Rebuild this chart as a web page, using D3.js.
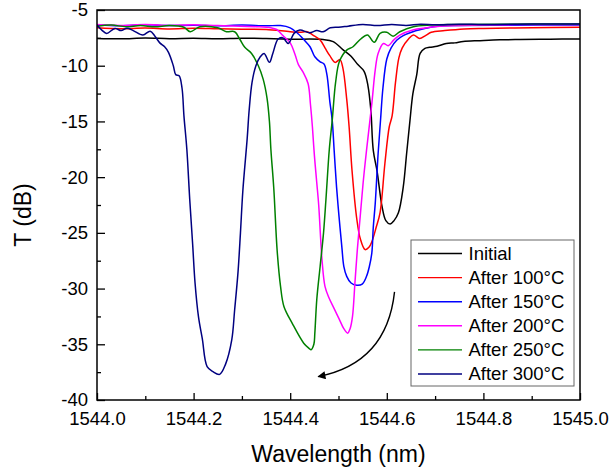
<!DOCTYPE html>
<html><head><meta charset="utf-8">
<script src="https://cdn.jsdelivr.net/npm/d3@7"></script>
<style>
html,body{margin:0;padding:0;background:#fff;}
svg{display:block;font-family:Arial,"Liberation Sans",sans-serif;}
</style></head>
<body><svg id="chart" width="609" height="471"></svg>
<script>
// ---- data (wavelength nm, transmission dB) ----
const seriesNames = ["Initial","After 100°C","After 150°C","After 200°C","After 250°C","After 300°C"];
const seriesColors = ["#000000","#ff0000","#0000ff","#ff00ff","#008000","#000080"];

const initial = [
[1544.00,-7.55],[1544.05,-7.58],[1544.10,-7.52],[1544.15,-7.57],[1544.20,-7.54],[1544.25,-7.58],
[1544.30,-7.53],[1544.35,-7.56],[1544.40,-7.62],[1544.468,-7.65],[1544.489,-7.84],[1544.509,-8.55],
[1544.526,-9.15],[1544.540,-9.9],[1544.553,-10.5],[1544.561,-11.8],[1544.567,-14.0],[1544.572,-17.6],
[1544.580,-19.5],[1544.590,-22.6],[1544.598,-23.9],[1544.607,-24.2],[1544.615,-23.9],[1544.624,-23.2],
[1544.634,-20.9],[1544.641,-17.9],[1544.648,-14.9],[1544.654,-12.5],[1544.662,-10.8],[1544.669,-8.9],
[1544.679,-8.45],[1544.689,-8.35],[1544.704,-8.25],[1544.723,-8.0],[1544.741,-7.95],[1544.758,-7.82],
[1544.793,-7.75],[1544.834,-7.68],[1544.876,-7.65],[1544.938,-7.62],[1545.00,-7.6]];

const after100 = [
[1544.00,-6.6],[1544.05,-6.68],[1544.10,-6.62],[1544.15,-6.7],[1544.20,-6.63],[1544.25,-6.68],
[1544.30,-6.72],[1544.35,-6.75],[1544.40,-6.95],[1544.420,-7.0],[1544.435,-6.95],[1544.447,-7.25],
[1544.462,-7.7],[1544.472,-8.4],[1544.482,-9.1],[1544.493,-9.7],[1544.503,-9.45],[1544.509,-10.2],
[1544.517,-13.0],[1544.522,-15.5],[1544.528,-19.4],[1544.538,-23.8],[1544.545,-25.5],[1544.555,-26.5],
[1544.563,-26.3],[1544.569,-25.8],[1544.578,-24.5],[1544.586,-23.2],[1544.596,-18.8],[1544.605,-15.5],
[1544.611,-14.5],[1544.618,-11.5],[1544.625,-9.3],[1544.632,-8.4],[1544.645,-7.6],[1544.655,-7.25],
[1544.668,-7.55],[1544.680,-7.3],[1544.692,-7.0],[1544.72,-6.85],[1544.76,-6.7],[1544.80,-6.65],
[1544.90,-6.6],[1545.00,-6.55]];

const after150 = [
[1544.00,-6.35],[1544.05,-6.42],[1544.10,-6.33],[1544.15,-6.4],[1544.20,-6.36],[1544.25,-6.42],
[1544.30,-6.35],[1544.35,-6.42],[1544.38,-6.4],[1544.40,-6.6],[1544.413,-7.0],[1544.427,-7.6],
[1544.441,-8.3],[1544.451,-9.2],[1544.462,-9.65],[1544.470,-9.85],[1544.476,-10.8],[1544.482,-13.2],
[1544.487,-14.9],[1544.491,-17.6],[1544.496,-20.9],[1544.501,-23.5],[1544.507,-26.3],[1544.511,-28.0],
[1544.517,-28.9],[1544.526,-29.5],[1544.538,-29.7],[1544.549,-29.6],[1544.558,-28.9],[1544.564,-28.0],
[1544.569,-26.8],[1544.572,-24.5],[1544.576,-22.4],[1544.582,-17.9],[1544.587,-14.9],[1544.592,-12.0],
[1544.600,-9.4],[1544.609,-8.4],[1544.621,-7.7],[1544.634,-7.3],[1544.654,-6.95],[1544.683,-6.62],
[1544.704,-6.45],[1544.75,-6.38],[1544.85,-6.36],[1545.00,-6.35]];

const after200 = [
[1544.00,-6.3],[1544.05,-6.38],[1544.10,-6.3],[1544.15,-6.38],[1544.20,-6.32],[1544.25,-6.4],
[1544.33,-6.5],[1544.36,-6.6],[1544.372,-6.75],[1544.385,-7.3],[1544.400,-7.95],[1544.410,-9.0],
[1544.417,-9.9],[1544.427,-10.6],[1544.437,-11.6],[1544.442,-13.5],[1544.446,-15.5],[1544.450,-18.0],
[1544.455,-20.5],[1544.459,-22.5],[1544.463,-25.5],[1544.466,-27.5],[1544.472,-29.8],[1544.480,-30.8],
[1544.491,-31.8],[1544.501,-32.7],[1544.511,-33.6],[1544.519,-34.0],[1544.524,-33.6],[1544.529,-32.5],
[1544.534,-29.5],[1544.539,-26.5],[1544.545,-23.5],[1544.551,-20.5],[1544.558,-17.6],[1544.569,-13.4],
[1544.576,-10.4],[1544.582,-8.9],[1544.593,-8.0],[1544.603,-8.2],[1544.614,-7.7],[1544.627,-7.25],
[1544.654,-6.8],[1544.683,-6.6],[1544.710,-6.45],[1544.80,-6.35],[1544.90,-6.3],[1545.00,-6.3]];

const after250 = [
[1544.00,-6.45],[1544.03,-6.35],[1544.06,-6.5],[1544.09,-6.4],[1544.12,-6.5],[1544.15,-6.4],
[1544.18,-6.55],[1544.193,-6.95],[1544.213,-6.5],[1544.25,-6.6],[1544.268,-6.95],[1544.285,-6.95],
[1544.296,-7.65],[1544.306,-8.35],[1544.320,-8.9],[1544.334,-10.0],[1544.344,-11.2],[1544.352,-12.9],
[1544.357,-15.0],[1544.360,-17.5],[1544.366,-21.0],[1544.373,-26.6],[1544.380,-29.8],[1544.387,-31.6],
[1544.404,-33.1],[1544.428,-34.9],[1544.440,-35.4],[1544.443,-35.5],[1544.449,-35.0],[1544.451,-34.0],
[1544.455,-31.0],[1544.462,-28.0],[1544.469,-25.0],[1544.474,-22.0],[1544.481,-17.5],[1544.487,-14.9],
[1544.494,-11.5],[1544.502,-9.6],[1544.517,-8.6],[1544.530,-8.3],[1544.546,-7.6],[1544.560,-7.25],
[1544.574,-7.9],[1544.586,-7.1],[1544.600,-7.0],[1544.613,-7.35],[1544.627,-6.95],[1544.655,-6.5],
[1544.690,-6.35],[1544.75,-6.3],[1544.85,-6.28],[1545.00,-6.25]];

const after300 = [
[1544.00,-6.35],[1544.01,-6.8],[1544.02,-7.1],[1544.037,-6.65],[1544.05,-6.85],[1544.062,-6.64],
[1544.075,-6.85],[1544.095,-7.25],[1544.11,-6.9],[1544.12,-7.35],[1544.13,-7.95],[1544.14,-8.3],
[1544.148,-8.8],[1544.158,-10.0],[1544.163,-10.8],[1544.17,-10.9],[1544.176,-12.0],[1544.18,-14.5],
[1544.186,-17.5],[1544.192,-22.0],[1544.198,-26.0],[1544.203,-29.5],[1544.21,-32.5],[1544.218,-34.5],
[1544.228,-37.0],[1544.24,-37.45],[1544.254,-37.7],[1544.266,-36.8],[1544.279,-34.6],[1544.285,-31.9],
[1544.292,-28.5],[1544.297,-25.0],[1544.302,-21.2],[1544.311,-16.5],[1544.315,-14.0],[1544.321,-11.5],
[1544.329,-10.0],[1544.338,-9.2],[1544.346,-8.9],[1544.357,-9.7],[1544.364,-8.9],[1544.375,-7.6],
[1544.385,-7.5],[1544.396,-8.0],[1544.408,-7.1],[1544.42,-6.8],[1544.44,-7.05],[1544.455,-6.85],
[1544.468,-6.95],[1544.483,-6.6],[1544.50,-6.55],[1544.52,-6.45],[1544.55,-6.3],[1544.58,-6.4],
[1544.61,-6.3],[1544.64,-6.38],[1544.67,-6.28],[1544.70,-6.33],[1544.75,-6.27],[1544.80,-6.3],
[1544.90,-6.26],[1545.00,-6.25]];

const seriesData = [initial, after100, after150, after200, after250, after300];

const xMajorTicks = [1544.0,1544.2,1544.4,1544.6,1544.8,1545.0];
const xMinorTicks = [1544.1,1544.3,1544.5,1544.7,1544.9];
const yMajorTicks = [-5,-10,-15,-20,-25,-30,-35,-40];
const yMinorTicks = [-7.5,-12.5,-17.5,-22.5,-27.5,-32.5,-37.5];

// arrow annotation (data units): start, control, end
const arrowPts = [[1544.616,-30.3],[1544.600,-36.7],[1544.458,-37.9]];

// ---- drawing ----
const svg = d3.select("#chart");
svg.append("rect").attr("width",609).attr("height",471).attr("fill","#fff");
const L=97, R=580, T=10, B=400;
const x = d3.scaleLinear().domain([1544,1545]).range([L,R]);
const y = d3.scaleLinear().domain([-40,-5]).range([B,T]);

const fontSize = "18.5px";

const gx = svg.append("g").attr("transform",`translate(0,${B})`)
  .call(d3.axisBottom(x).tickValues(xMajorTicks).tickSize(-7).tickPadding(12).tickFormat(d=>d.toFixed(1)));
const gxm = svg.append("g").attr("transform",`translate(0,${B})`)
  .call(d3.axisBottom(x).tickValues(xMinorTicks).tickSize(-4).tickFormat(""));
const gy = svg.append("g").attr("transform",`translate(${L},0)`)
  .call(d3.axisLeft(y).tickValues(yMajorTicks).tickSize(-8).tickPadding(9).tickFormat(d=>String(d)));
const gym = svg.append("g").attr("transform",`translate(${L},0)`)
  .call(d3.axisLeft(y).tickValues(yMinorTicks).tickSize(-4).tickFormat(""));
[gx,gxm,gy,gym].forEach(g=>{
  g.select(".domain").remove();
  g.selectAll("line").attr("stroke","#000").attr("stroke-width",1.3);
  g.selectAll("text").attr("fill","#000").style("font-size",fontSize).style("font-family","Arial, 'Liberation Sans', sans-serif");
});

const clip = svg.append("clipPath").attr("id","clip").append("rect")
  .attr("x",L).attr("y",T).attr("width",R-L).attr("height",B-T);

const line = d3.line().x(d=>x(d[0])).y(d=>y(d[1])).curve(d3.curveCatmullRom.alpha(0.5));
const plot = svg.append("g").attr("clip-path","url(#clip)");
seriesData.forEach((s,i)=>{
  plot.append("path").datum(s).attr("d",line)
    .attr("fill","none").attr("stroke",seriesColors[i]).attr("stroke-width",1.5)
    .attr("stroke-linejoin","round");
});

// frame
svg.append("rect").attr("x",L).attr("y",T).attr("width",R-L).attr("height",B-T)
  .attr("fill","none").attr("stroke","#000").attr("stroke-width",1.5);

// arrow
svg.append("defs").append("marker").attr("id","ah").attr("viewBox","0 0 10 10")
  .attr("refX",9).attr("refY",5).attr("markerWidth",11).attr("markerHeight",8)
  .attr("markerUnits","userSpaceOnUse").attr("orient","auto")
  .append("path").attr("d","M0,0 L10,5 L0,10 Z").attr("fill","#000");
const ap = d3.path();
ap.moveTo(x(arrowPts[0][0]),y(arrowPts[0][1]));
ap.quadraticCurveTo(x(arrowPts[1][0]),y(arrowPts[1][1]),x(arrowPts[2][0]),y(arrowPts[2][1]));
svg.append("path").attr("d",ap.toString()).attr("fill","none").attr("stroke","#000")
  .attr("stroke-width",1.4).attr("marker-end","url(#ah)");

// legend
const lg = svg.append("g");
lg.append("rect").attr("x",411).attr("y",240).attr("width",163).attr("height",146)
  .attr("fill","#fff").attr("stroke","#666").attr("stroke-width",1);
seriesNames.forEach((n,i)=>{
  const yy = 253.5 + i*24.1;
  lg.append("line").attr("x1",418).attr("x2",462).attr("y1",yy).attr("y2",yy)
    .attr("stroke",seriesColors[i]).attr("stroke-width",1.4);
  lg.append("text").attr("x",468.5).attr("y",yy).attr("dy","0.35em")
    .style("font-size",fontSize).text(n);
});

// axis titles
svg.append("text").attr("x",(L+R)/2).attr("y",462).attr("text-anchor","middle")
  .style("font-size","23px").text("Wavelength (nm)");
svg.append("text").attr("transform","translate(31,215) rotate(-90)").attr("text-anchor","middle")
  .style("font-size","23px").text("T (dB)");
</script></body></html>
